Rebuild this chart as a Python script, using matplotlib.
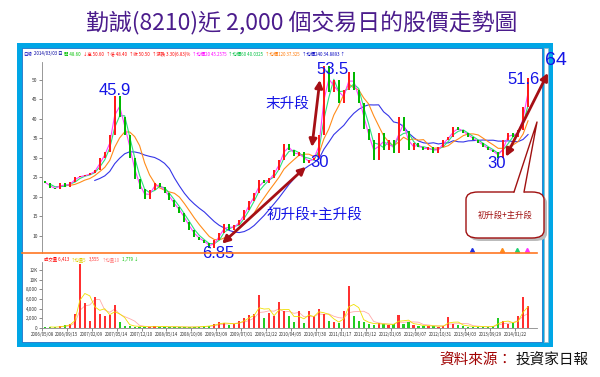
import numpy as np
import pandas as pd
import matplotlib
matplotlib.use("Agg")
import matplotlib.pyplot as plt
from matplotlib.patches import Rectangle, FancyBboxPatch, Polygon
from matplotlib.lines import Line2D

plt.rcParams['font.family'] = ['Noto Sans CJK TC', 'DejaVu Sans']

# closing price, one sample every 20 trading days
close = [24.0, 23.5, 22.3, 22.0, 23.6, 22.5, 23.8, 25.0, 25.3, 25.6,
         26.0, 27.0, 30.0, 31.5, 36.0, 45.9, 40.5, 36.0, 30.0, 24.5,
         22.0, 19.5, 21.8, 23.6, 22.5, 21.0, 19.2, 17.4, 15.9, 13.6,
         11.5, 9.8, 9.0, 8.2, 6.85, 9.0, 10.8, 13.0, 11.5, 12.8,
         14.0, 16.7, 19.0, 21.0, 24.4, 23.6, 24.9, 26.9, 29.5, 33.5,
         32.0, 30.5, 31.5, 28.7, 29.5, 30.0, 36.0, 53.5, 47.0, 50.0,
         44.0, 47.4, 52.0, 47.4, 44.0, 37.5, 34.6, 29.5, 36.4, 32.0,
         34.6, 31.3, 40.5, 37.0, 32.0, 33.8, 32.8, 32.0, 32.8, 31.3,
         32.8, 34.6, 35.4, 37.9, 37.2, 36.4, 35.4, 34.6, 33.8, 32.8,
         32.0, 31.5, 30.0, 34.6, 36.4, 35.4, 37.2, 43.0, 50.5]

volume = [300, 200, 150, 200, 400, 600, 900, 3000, 13300, 5200,
          1500, 6500, 3000, 2500, 2800, 4800, 1200, 500, 400, 300,
          300, 250, 200, 350, 300, 250, 200, 300, 200, 150,
          200, 250, 300, 400, 500, 900, 1200, 1000, 700, 900,
          1500, 2000, 2800, 3000, 6800, 2000, 3200, 2500, 5500, 3500,
          2500, 1200, 3500, 1000, 3600, 2500, 4000, 3000, 1500, 1200,
          1000, 3500, 8700, 2500, 1500, 1200, 900, 700, 1000, 800,
          600, 800, 2800, 900, 1200, 600, 500, 400, 500, 400,
          300, 500, 2300, 800, 600, 400, 300, 300, 250, 300,
          200, 400, 2000, 1500, 800, 1000, 2400, 6400, 4500]

date_labels = ['2006/05/08', '2006/09/15', '2007/02/09', '2007/05/14', '2007/12/10',
               '2008/05/14', '2008/10/06', '2009/03/09', '2009/07/01', '2009/12/22',
               '2010/04/05', '2010/07/30', '2011/01/17', '2011/05/12', '2012/01/05',
               '2012/06/07', '2012/10/31', '2013/04/03', '2013/09/29', '2014/01/22']

price_ticks = [10, 15, 20, 25, 30, 35, 40, 45, 50]
vol_ticks = [0, 2000, 4000, 6000, 8000, 10000, 12000]
vol_tick_labels = ['0', '2,000', '4,000', '6,000', '8,000', '10K', '12K']

days = np.arange(len(close)) * 20
date_ticks = 8 + np.arange(len(date_labels)) * 100

W, H = 600, 377


def rect(x0, y0, x1, y1):
    return [x0 / W, 1 - y1 / H, (x1 - x0) / W, (y1 - y0) / H]


def text_row(x, y, parts, fs):
    # lay coloured text pieces one after another
    r = fig.canvas.get_renderer()
    for t, c in parts:
        tx = fig.text(x / W, 1 - y / H, t, fontsize=fs, color=c, va='center', ha='left')
        x += tx.get_window_extent(r).width + 2


fig = plt.figure(figsize=(6, 3.77), dpi=100)
fig.patch.set_facecolor('white')

# blue frame of the screenshot
fig.patches.append(Rectangle((17 / W, 1 - 347 / H), 536 / W, 304 / H, transform=fig.transFigure,
                             facecolor='#00A6E6', edgecolor='none', zorder=-2))
fig.patches.append(Rectangle((22 / W, 1 - 342 / H), 520 / W, 294 / H, transform=fig.transFigure,
                             facecolor='white', edgecolor='#1060C0', lw=0.5, zorder=-1))
fig.patches.append(Rectangle((544 / W, 1 - 342 / H), 4 / W, 294 / H, transform=fig.transFigure,
                             facecolor='white', edgecolor='#9AB0C0', lw=0.5, zorder=-1))

fig.text(0.503, 1 - 22 / H, '勤誠(8210)近 2,000 個交易日的股價走勢圖', ha='center', va='center',
         fontsize=16.5, color='#4B1C8C')

# ---- price panel
ax = fig.add_axes(rect(42, 62, 540, 253))
ax.set_facecolor('none')
ax.set_xlim(8, 2008)
ax.set_ylim(5.6, 54.6)

opens = [close[0]] + close[:-1]
lo = np.minimum(opens, close)
hi = np.maximum(opens, close)
up = np.array(close) >= np.array(opens)
ccol = np.where(up, '#FF1A1A', '#00B800')
ax.bar(days, np.maximum(hi - lo, 0.3), bottom=lo, width=8, color=ccol, zorder=3)

s = pd.Series(close)
ax.plot(days, s.rolling(12).mean(), color='#3535E8', lw=0.8, zorder=2)
ax.plot(days, s.rolling(6).mean(), color='#FF8C1A', lw=0.8, zorder=2)
ax.plot(days, s.rolling(3).mean(), color='#2EE07A', lw=0.8, zorder=2)
ax.plot(days, s.rolling(2).mean(), color='#FF40FF', lw=0.8, zorder=2)

for sp in ['top', 'right', 'bottom']:
    ax.spines[sp].set_visible(False)
ax.spines['left'].set_color('#888888')
ax.spines['left'].set_linewidth(0.6)
ax.set_xticks([])
ax.set_yticks(price_ticks)
ax.set_yticklabels([str(t) for t in price_ticks])
ax.tick_params(axis='y', labelsize=3.5, length=2, width=0.4, colors='#333333', pad=1)

fig.add_artist(Line2D([22 / W, 537 / W], [1 - 253 / H, 1 - 253 / H], transform=fig.transFigure,
                      color='#FF7722', lw=1.2))

# marker triangles on the baseline
for d, c in [(1735, '#2030E0'), (1855, '#FF8C1A'), (1916, '#20D070'), (1956, '#FF30FF')]:
    ax.plot([d], [6.4], marker='^', ms=3, color=c, clip_on=False, zorder=4)

# labels
blue = '#1414E6'
num_font = ['Liberation Sans Narrow', 'DejaVu Sans Condensed', 'Liberation Sans']
for x, y, t, fs in [(301, 47.4, '45.9', 12), (1175, 52.6, '53.5', 12), (1124, 28.7, '30', 12),
                    (715, 5.4, '6.85', 12), (1835, 28.5, '30', 12), (1940, 50.0, '51.6', 12),
                    (2072, 55.1, '64', 14)]:
    ax.text(x, y, t, ha='center', va='center', fontsize=fs, color=blue, family=num_font,
            zorder=6, clip_on=False)
ax.text(992, 43.8, '末升段', ha='center', va='center', fontsize=10.5, color=blue, zorder=6)
ax.text(1104, 15.4, '初升段+主升段', ha='center', va='center', fontsize=10.5, color=blue, zorder=6)

arrow_red = '#A50F15'
for (x0, y0), (x1, y1) in [((1092, 32.8), (1124, 50.0)), ((731, 8.0), (1068, 27.7)),
                           ((1871, 30.3), (2040, 51.8))]:
    ax.annotate('', xy=(x1, y1), xytext=(x0, y0), annotation_clip=False, zorder=7,
                arrowprops=dict(arrowstyle='<|-|>', color=arrow_red, lw=2.0,
                                mutation_scale=11, shrinkA=0, shrinkB=0))

# header line
text_row(23, 54, [('日線', '#0000C0'), ('2014/03/03 日', '#0000A0'), ('開 48.60', '#00C000'),
                  ('↓高 50.60', '#FF0000'), ('↑低 48.40', '#FF0000'), ('↑收 50.50', '#FF0000'),
                  ('↑漲跌 3.30(6.83)%', '#FF0000'), ('↑均價20 45.2575', '#FF00FF'),
                  ('↑均價60 40.0325', '#00C040'), ('↑均價120 37.325', '#FF7700'),
                  ('↑均價240 34.8893 ↑', '#0000C0')], 3.2)

# ---- volume panel
vx = fig.add_axes(rect(42, 262, 537, 328))
vx.set_facecolor('none')
vx.set_xlim(8, 1996)
vx.set_ylim(0, 13700)
vcol = np.where(up, '#FF3030', '#22CC22')
vx.bar(days, volume, width=9, color=vcol, zorder=3)
vx.plot(days, pd.Series(volume).rolling(3).mean(), color='#F0E000', lw=0.6, zorder=4)
vx.plot(days, pd.Series(volume).rolling(5).mean(), color='#FFAAAA', lw=0.6, zorder=2)
for sp in ['top', 'right']:
    vx.spines[sp].set_visible(False)
for sp in ['left', 'bottom']:
    vx.spines[sp].set_color('#888888')
    vx.spines[sp].set_linewidth(0.6)
vx.set_yticks(vol_ticks)
vx.set_yticklabels(vol_tick_labels)
vx.set_xticks(date_ticks)
vx.set_xticklabels(date_labels)
vx.tick_params(axis='y', labelsize=3.3, length=2, width=0.4, colors='#333333', pad=1)
vx.tick_params(axis='x', labelsize=3.2, length=2, width=0.4, colors='#333333', pad=1)

text_row(44, 260, [('成交量 6,413', '#FF0000'), ('↑均量5', '#E0D000'), ('3,555', '#FF3030'),
                   ('↑均量10', '#FF8080'), ('1,779 ↓', '#00C000')], 3.2)

# callout box
fig.patches.append(FancyBboxPatch((469 / W, 1 - 241 / H), 78 / W, 46 / H, transform=fig.transFigure,
                                  boxstyle='round,pad=0,rounding_size=0.02', facecolor='#BBBBBB',
                                  edgecolor='none', zorder=4))
fig.patches.append(FancyBboxPatch((466 / W, 1 - 238 / H), 78 / W, 46 / H, transform=fig.transFigure,
                                  boxstyle='round,pad=0,rounding_size=0.02', facecolor='white',
                                  edgecolor='#A01010', lw=1.0, zorder=5))
fig.patches.append(Polygon([(514 / W, 1 - 193 / H), (524 / W, 1 - 193 / H), (537 / W, 1 - 122 / H)],
                           closed=True, transform=fig.transFigure, facecolor='white',
                           edgecolor='none', zorder=6))
fig.add_artist(Line2D([514 / W, 537 / W, 524 / W], [1 - 192 / H, 1 - 122 / H, 1 - 192 / H],
                      transform=fig.transFigure, color='#A01010', lw=1.0, zorder=7))
fig.text(505 / W, 1 - 215 / H, '初升段+主升段', fontsize=6, color='#A01010', ha='center',
         va='center', zorder=8)

# source
fig.text(512 / W, 1 - 361 / H, '資料來源：', fontsize=10.5, color='#A00000', ha='right', va='center')
fig.text(589 / W, 1 - 361 / H, '投資家日報', fontsize=10.5, color='#111111', ha='right', va='center')

fig.savefig('out.png', dpi=100)
